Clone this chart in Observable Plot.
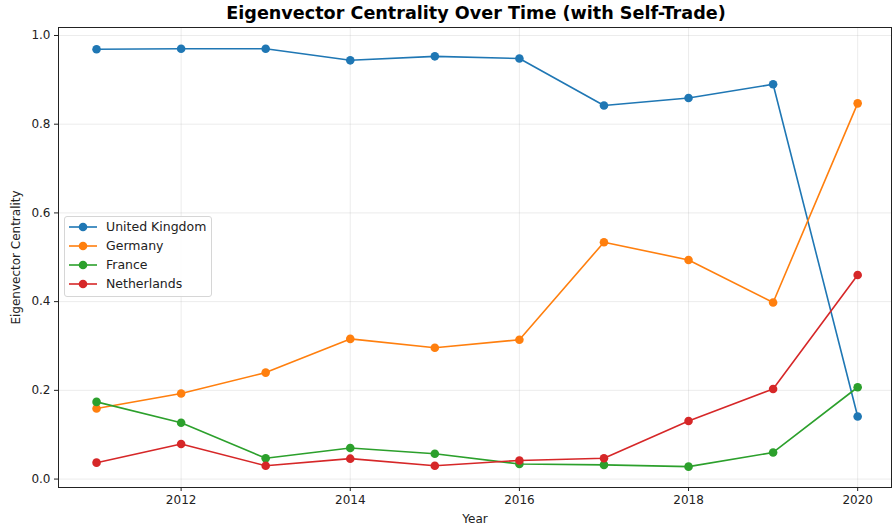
<!DOCTYPE html>
<html>
<head>
<meta charset="utf-8">
<script src="https://cdn.jsdelivr.net/npm/d3@7"></script>
<script src="https://cdn.jsdelivr.net/npm/@observablehq/plot@0.6"></script>
<style>
  body { margin: 0; background: #fff; font-family: "DejaVu Sans", sans-serif; }
  #wrap { position: relative; width: 892px; height: 529px; }
  #title { height: 26px; width: 892px; box-sizing: border-box; padding-left: 60px; text-align: center;
           font: bold 17.6px "DejaVu Sans", sans-serif; line-height: 27px; color: #000; }
  #legend { position: absolute; left: 64px; top: 216px; background: rgba(255,255,255,0.85);
            border: 1px solid #d6d6d6; border-radius: 3px; padding: 0px 5px 3px 3px;
            font: 12.5px "DejaVu Sans", sans-serif; color: #222; }
  .row { display: flex; align-items: center; height: 19px; }
  .row svg { margin-right: 8px; }
</style>
</head>
<body>
<div id="wrap">
  <div id="title">Eigenvector Centrality Over Time (with Self-Trade)</div>
  <div id="chart"></div>
  <div id="legend"></div>
</div>
<script>
const years = [2011, 2012, 2013, 2014, 2015, 2016, 2017, 2018, 2019, 2020];
const seriesNames = ["United Kingdom", "Germany", "France", "Netherlands"];
const unitedKingdom = [0.969, 0.970, 0.970, 0.944, 0.953, 0.948, 0.842, 0.859, 0.890, 0.141];
const germany       = [0.159, 0.193, 0.240, 0.316, 0.296, 0.314, 0.534, 0.494, 0.398, 0.847];
const france        = [0.174, 0.127, 0.047, 0.070, 0.057, 0.034, 0.032, 0.028, 0.060, 0.207];
const netherlands   = [0.037, 0.079, 0.030, 0.046, 0.030, 0.042, 0.047, 0.131, 0.203, 0.460];
const colors = ["#1f77b4", "#ff7f0e", "#2ca02c", "#d62728"];
const xTicks = [2012, 2014, 2016, 2018, 2020];
const yTicks = [0.0, 0.2, 0.4, 0.6, 0.8, 1.0];

const valuesBySeries = [unitedKingdom, germany, france, netherlands];
const data = [];
seriesNames.forEach((name, i) => {
  years.forEach((yr, j) => data.push({series: name, year: yr, value: valuesBySeries[i][j]}));
});

const chart = Plot.plot({
  width: 892,
  height: 503,
  marginTop: 1,
  marginRight: 1,
  marginBottom: 42,
  marginLeft: 58,
  style: {fontFamily: "DejaVu Sans, sans-serif", fontSize: "12px", color: "#222", background: "#fff"},
  x: {domain: [2010.55, 2020.40]},
  y: {domain: [-0.019, 1.018]},
  color: {domain: seriesNames, range: colors},
  marks: [
    Plot.gridX(xTicks, {stroke: "#b0b0b0", strokeOpacity: 0.3, strokeWidth: 0.8}),
    Plot.gridY(yTicks, {stroke: "#b0b0b0", strokeOpacity: 0.3, strokeWidth: 0.8}),
    Plot.axisX(xTicks, {tickFormat: d => String(d), tickSize: 4, tickPadding: 4, fontSize: 12,
      label: "Year", labelAnchor: "center", labelArrow: "none", labelOffset: 35}),
    Plot.axisY(yTicks, {tickFormat: d => d.toFixed(1), tickSize: 4, tickPadding: 4, fontSize: 12,
      label: "Eigenvector Centrality", labelAnchor: "center", labelArrow: "none", labelOffset: 47}),
    Plot.line(data, {x: "year", y: "value", z: "series", stroke: "series", strokeWidth: 1.6}),
    Plot.dot(data, {x: "year", y: "value", fill: "series", r: 4.3}),
    Plot.frame({stroke: "#222", strokeWidth: 1})
  ]
});
document.getElementById("chart").appendChild(chart);

const legend = document.getElementById("legend");
seriesNames.forEach((name, i) => {
  const row = document.createElement("div");
  row.className = "row";
  row.innerHTML = `<svg width="30" height="12"><line x1="1" y1="6" x2="29" y2="6" stroke="${colors[i]}" stroke-width="1.6"/><circle cx="15" cy="6" r="4.3" fill="${colors[i]}"/></svg><span>${name}</span>`;
  legend.appendChild(row);
});
</script>
</body>
</html>
